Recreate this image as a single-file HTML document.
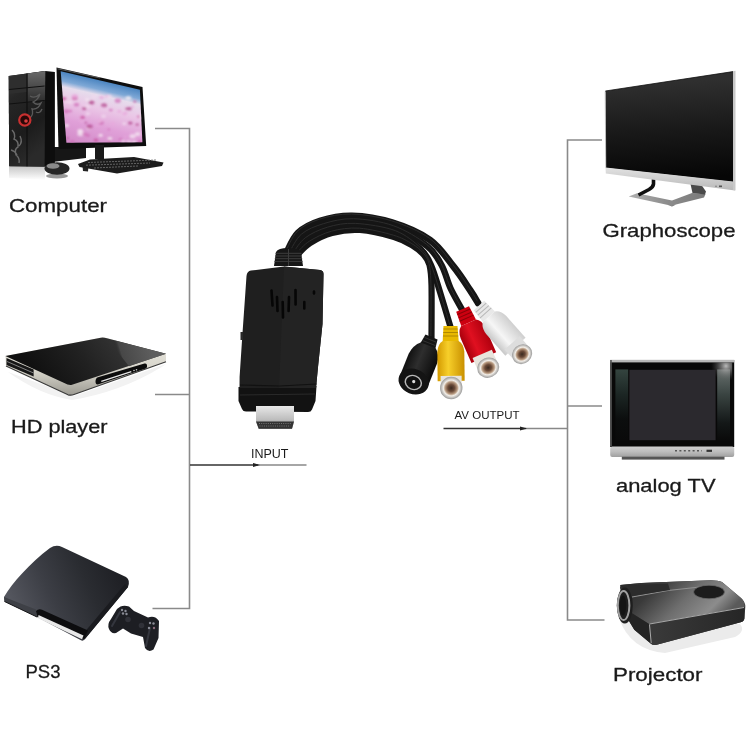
<!DOCTYPE html>
<html><head><meta charset="utf-8">
<style>
html,body{margin:0;padding:0;background:#fff;}
body{width:750px;height:750px;overflow:hidden;}
svg{display:block;}
text{font-family:"Liberation Sans",sans-serif;fill:#1a1a1a;}
svg{will-change:transform;}
</style></head>
<body>
<svg width="750" height="750" viewBox="0 0 750 750">
<defs>
<filter id="soft" x="-10%" y="-10%" width="120%" height="120%"><feGaussianBlur stdDeviation="0.9"/></filter>
<linearGradient id="scr" gradientUnits="userSpaceOnUse" x1="61" y1="71" x2="45" y2="140">
<stop offset="0" stop-color="#4a84c0"/><stop offset="0.13" stop-color="#7ea8d6"/><stop offset="0.21" stop-color="#e6dcec"/><stop offset="0.4" stop-color="#eac6e6"/><stop offset="0.65" stop-color="#e0a0d8"/><stop offset="1" stop-color="#d088c6"/>
</linearGradient>
<linearGradient id="trefl" x1="0" y1="0" x2="0" y2="1">
<stop offset="0" stop-color="#c8c8c8"/><stop offset="1" stop-color="#fff"/>
</linearGradient>
<linearGradient id="tgloss" x1="0" y1="0" x2="0" y2="1">
<stop offset="0" stop-color="#6a6a6a"/><stop offset="1" stop-color="#2a2a2a"/>
</linearGradient>
<linearGradient id="tower" x1="0" y1="0" x2="0.3" y2="1">
<stop offset="0" stop-color="#3a3a3a"/><stop offset="0.3" stop-color="#262626"/><stop offset="0.7" stop-color="#1c1c1c"/><stop offset="1" stop-color="#2a2a2a"/>
</linearGradient>
<linearGradient id="hdtop" gradientUnits="userSpaceOnUse" x1="40" y1="380" x2="110" y2="330">
<stop offset="0" stop-color="#101010"/><stop offset="0.55" stop-color="#212121"/><stop offset="1" stop-color="#333333"/>
</linearGradient>
<linearGradient id="hdref" gradientUnits="userSpaceOnUse" x1="118" y1="356" x2="150" y2="346">
<stop offset="0" stop-color="#2a2a2a" stop-opacity="0"/><stop offset="0.12" stop-color="#474747"/><stop offset="1" stop-color="#5e5e5e"/>
</linearGradient>
<linearGradient id="silver" x1="0" y1="0" x2="0" y2="1">
<stop offset="0" stop-color="#eeece4"/><stop offset="0.6" stop-color="#d4d2c8"/><stop offset="1" stop-color="#9c9a92"/>
</linearGradient>
<linearGradient id="ps3" gradientUnits="userSpaceOnUse" x1="15" y1="610" x2="115" y2="565">
<stop offset="0" stop-color="#54565e"/><stop offset="0.35" stop-color="#3c3e45"/><stop offset="0.7" stop-color="#2a2c31"/><stop offset="1" stop-color="#1f2025"/>
</linearGradient>
<linearGradient id="gmon" gradientUnits="userSpaceOnUse" x1="670" y1="82" x2="675" y2="178">
<stop offset="0" stop-color="#2f2f2f"/><stop offset="0.5" stop-color="#191919"/><stop offset="1" stop-color="#060606"/>
</linearGradient>
<linearGradient id="gbase" x1="0" y1="0" x2="1" y2="0">
<stop offset="0" stop-color="#b0b0b0"/><stop offset="0.5" stop-color="#8c8c8c"/><stop offset="1" stop-color="#7a7a7a"/>
</linearGradient>
<linearGradient id="gbez" x1="0" y1="0" x2="0" y2="1">
<stop offset="0" stop-color="#e2e2e2"/><stop offset="1" stop-color="#b8b8b8"/>
</linearGradient>
<radialGradient id="tvglare" gradientUnits="userSpaceOnUse" cx="726" cy="366" r="15">
<stop offset="0" stop-color="#c4c4c4" stop-opacity="0.95"/><stop offset="0.5" stop-color="#8a8a8a" stop-opacity="0.5"/><stop offset="1" stop-color="#555" stop-opacity="0"/>
</radialGradient>
<linearGradient id="tvpl" x1="0" y1="0" x2="0" y2="1">
<stop offset="0" stop-color="#34443f"/><stop offset="0.35" stop-color="#1c2624"/><stop offset="0.7" stop-color="#0c0e0e"/><stop offset="1" stop-color="#0a0a0a"/>
</linearGradient>
<linearGradient id="tvpr" x1="0" y1="0" x2="0" y2="1">
<stop offset="0" stop-color="#68706e"/><stop offset="0.35" stop-color="#3a4442"/><stop offset="0.75" stop-color="#141818"/><stop offset="1" stop-color="#0a0a0a"/>
</linearGradient>
<linearGradient id="tvband" x1="0" y1="0" x2="0" y2="1">
<stop offset="0" stop-color="#cfcfcf"/><stop offset="0.5" stop-color="#bdbdbd"/><stop offset="1" stop-color="#a0a0a0"/>
</linearGradient>
<linearGradient id="proj" x1="0" y1="0" x2="1" y2="0.35">
<stop offset="0" stop-color="#262626"/><stop offset="0.3" stop-color="#3a3a3a"/><stop offset="0.6" stop-color="#6e6e6e"/><stop offset="0.85" stop-color="#8c8c8c"/><stop offset="1" stop-color="#5a5a5a"/>
</linearGradient>
<linearGradient id="projf" x1="0" y1="0" x2="1" y2="0">
<stop offset="0" stop-color="#3a3a3a"/><stop offset="1" stop-color="#262626"/>
</linearGradient>
<linearGradient id="hdmi" x1="0" y1="0" x2="0" y2="1">
<stop offset="0" stop-color="#e8e8e8"/><stop offset="0.6" stop-color="#bdbdbd"/><stop offset="1" stop-color="#8a8a8a"/>
</linearGradient>
<linearGradient id="yel" x1="0" y1="0" x2="1" y2="0">
<stop offset="0" stop-color="#d49a00"/><stop offset="0.4" stop-color="#f7cf2a"/><stop offset="1" stop-color="#c99000"/>
</linearGradient>
<linearGradient id="red" x1="0" y1="0" x2="1" y2="0">
<stop offset="0" stop-color="#a8000c"/><stop offset="0.4" stop-color="#e01020"/><stop offset="1" stop-color="#b0000e"/>
</linearGradient>
<linearGradient id="wht" x1="0" y1="0" x2="1" y2="0">
<stop offset="0" stop-color="#c8c8c8"/><stop offset="0.4" stop-color="#f6f6f6"/><stop offset="1" stop-color="#cfcfcf"/>
</linearGradient>
<linearGradient id="blk" x1="0" y1="0" x2="1" y2="0">
<stop offset="0" stop-color="#111"/><stop offset="0.4" stop-color="#2e2e2e"/><stop offset="1" stop-color="#0c0c0c"/>
</linearGradient>
<radialGradient id="face">
<stop offset="0" stop-color="#3a2a20"/><stop offset="0.3" stop-color="#6a4a38"/><stop offset="0.55" stop-color="#b89a80"/><stop offset="0.7" stop-color="#f2eee8"/><stop offset="1" stop-color="#9a9a9a"/>
</radialGradient>
</defs>
<rect width="750" height="750" fill="#fff"/>

<!-- ===== Computer ===== -->
<g>
<path d="M9 166.5L45 167L45 180L9 178Z" fill="url(#trefl)"/>
<ellipse cx="57" cy="176" rx="11" ry="2.6" fill="#444" opacity="0.55"/>
<path d="M44 147L86 147L86 158L44 163Z" fill="#161616"/>
<path d="M8.7 76L45.3 70.9L54.9 72L54.9 165.5L45 166.8L9.2 166.2Z" fill="#0d0d0d"/>
<path d="M8.7 76L45.3 70.9L44.6 166.5L9.2 166.2Z" fill="url(#tower)"/>
<path d="M27.5 73.6L45.3 70.9L44.9 100L27.5 103Z" fill="url(#tgloss)"/>
<path d="M9 77L27 74.5L27 92L9 94Z" fill="#2e2e2e"/>
<path d="M27 73.5V166.3" stroke="#0a0a0a" stroke-width="1"/>
<path d="M9 89.5L44.6 86M9 104L44.6 100.5" stroke="#101010" stroke-width="1"/>
<path d="M30 96q5 3 10 -2q-2 6 -7 8q4 4 8 1q-3 7 -9 6q2 5 -2 9M36 112q4 2 6 -3" stroke="#5a5a5a" stroke-width="1.3" fill="none"/>
<path d="M12 130q4 4 2 9q5 2 4 8q-4 2 -2 8q4 3 3 8M20 136q3 6 -1 10M11 150q4 1 6 5" stroke="#6a6a6a" stroke-width="1.4" fill="none"/>
<circle cx="24.8" cy="120" r="5.6" fill="#2a0808" stroke="#c83030" stroke-width="2.2"/>
<circle cx="26" cy="121" r="1.8" fill="#d84040"/>
<path d="M56.5 67.5L142.5 87L146.2 146L58.5 149Z" fill="#0e0e0e"/>
<path d="M57.5 68.8L100 78" stroke="#8a8a8a" stroke-width="1" opacity="0.6"/>
<clipPath id="scrclip"><path d="M60.7 71.3L139.9 89.7L142.4 142.3L66.4 142.8Z"/></clipPath>
<g clip-path="url(#scrclip)">
<rect x="40" y="60" width="110" height="90" fill="url(#scr)"/>
<g filter="url(#soft)">
<ellipse cx="81.5" cy="121.6" rx="1.9" ry="1.4" fill="#e8a8dc" opacity="0.75"/>
<ellipse cx="100.9" cy="123.3" rx="2.4" ry="1.7" fill="#d070b8" opacity="0.75"/>
<ellipse cx="100.5" cy="121.9" rx="1.6" ry="1.1" fill="#f8f0f6" opacity="0.75"/>
<ellipse cx="100.6" cy="135.3" rx="2.2" ry="1.5" fill="#f8f0f6" opacity="0.75"/>
<ellipse cx="132.6" cy="106.9" rx="1.5" ry="1.1" fill="#e8a8dc" opacity="0.75"/>
<ellipse cx="94.0" cy="96.7" rx="2.8" ry="1.9" fill="#f0d8ee" opacity="0.75"/>
<ellipse cx="124.2" cy="123.8" rx="1.8" ry="1.3" fill="#f4e6f2" opacity="0.75"/>
<ellipse cx="129.5" cy="108.7" rx="2.4" ry="1.7" fill="#b04088" opacity="0.75"/>
<ellipse cx="120.6" cy="139.3" rx="2.0" ry="1.4" fill="#d070b8" opacity="0.75"/>
<ellipse cx="109.3" cy="141.3" rx="1.5" ry="1.0" fill="#c8509c" opacity="0.75"/>
<ellipse cx="70.0" cy="102.4" rx="1.6" ry="1.1" fill="#f8f0f6" opacity="0.75"/>
<ellipse cx="97.8" cy="125.5" rx="1.8" ry="1.3" fill="#e8a8dc" opacity="0.75"/>
<ellipse cx="130.3" cy="123.0" rx="2.3" ry="1.6" fill="#b04088" opacity="0.75"/>
<ellipse cx="109.9" cy="138.5" rx="2.6" ry="1.8" fill="#f4e6f2" opacity="0.75"/>
<ellipse cx="132.2" cy="142.6" rx="2.5" ry="1.8" fill="#f0d8ee" opacity="0.75"/>
<ellipse cx="119.3" cy="111.3" rx="2.3" ry="1.6" fill="#e8a8dc" opacity="0.75"/>
<ellipse cx="108.7" cy="129.5" rx="1.6" ry="1.1" fill="#d070b8" opacity="0.75"/>
<ellipse cx="143.0" cy="108.6" rx="1.4" ry="1.0" fill="#b04088" opacity="0.75"/>
<ellipse cx="132.0" cy="142.5" rx="1.4" ry="1.0" fill="#d070b8" opacity="0.75"/>
<ellipse cx="67.5" cy="138.2" rx="1.2" ry="0.9" fill="#b04088" opacity="0.75"/>
<ellipse cx="125.0" cy="137.0" rx="1.3" ry="0.9" fill="#e8a8dc" opacity="0.75"/>
<ellipse cx="124.5" cy="113.8" rx="2.4" ry="1.7" fill="#e8a8dc" opacity="0.75"/>
<ellipse cx="134.2" cy="142.1" rx="2.2" ry="1.5" fill="#f4e6f2" opacity="0.75"/>
<ellipse cx="87.4" cy="99.6" rx="2.4" ry="1.7" fill="#f4e6f2" opacity="0.75"/>
<ellipse cx="139.8" cy="141.7" rx="1.8" ry="1.2" fill="#c8509c" opacity="0.75"/>
<ellipse cx="74.8" cy="98.0" rx="2.9" ry="2.1" fill="#c8509c" opacity="0.75"/>
<ellipse cx="91.5" cy="102.5" rx="2.9" ry="2.0" fill="#b04088" opacity="0.75"/>
<ellipse cx="99.8" cy="120.4" rx="2.5" ry="1.7" fill="#e8a8dc" opacity="0.75"/>
<ellipse cx="117.8" cy="100.8" rx="3.1" ry="2.2" fill="#d070b8" opacity="0.75"/>
<ellipse cx="103.6" cy="116.3" rx="2.6" ry="1.8" fill="#f0d8ee" opacity="0.75"/>
<ellipse cx="138.8" cy="116.6" rx="1.7" ry="1.2" fill="#c8509c" opacity="0.75"/>
<ellipse cx="107.0" cy="96.5" rx="2.0" ry="1.4" fill="#e8a8dc" opacity="0.75"/>
<ellipse cx="87.8" cy="113.7" rx="2.4" ry="1.7" fill="#f0d8ee" opacity="0.75"/>
<ellipse cx="66.9" cy="125.5" rx="2.1" ry="1.5" fill="#f8f0f6" opacity="0.75"/>
<ellipse cx="137.2" cy="124.6" rx="1.8" ry="1.2" fill="#b04088" opacity="0.75"/>
<ellipse cx="63.8" cy="98.8" rx="2.6" ry="1.8" fill="#c8509c" opacity="0.75"/>
<ellipse cx="82.6" cy="117.4" rx="2.4" ry="1.7" fill="#c8509c" opacity="0.75"/>
<ellipse cx="76.5" cy="104.7" rx="2.7" ry="1.9" fill="#d070b8" opacity="0.75"/>
<ellipse cx="110.8" cy="110.1" rx="2.0" ry="1.4" fill="#d070b8" opacity="0.75"/>
<ellipse cx="128.7" cy="141.7" rx="2.6" ry="1.8" fill="#f0d8ee" opacity="0.75"/>
<ellipse cx="87.4" cy="106.5" rx="2.8" ry="2.0" fill="#f0d8ee" opacity="0.75"/>
<ellipse cx="88.9" cy="127.9" rx="2.5" ry="1.7" fill="#f4e6f2" opacity="0.75"/>
<ellipse cx="70.4" cy="111.1" rx="1.9" ry="1.3" fill="#d070b8" opacity="0.75"/>
<ellipse cx="80.4" cy="134.1" rx="3.1" ry="2.2" fill="#f4e6f2" opacity="0.75"/>
<ellipse cx="89.6" cy="126.6" rx="3.0" ry="2.1" fill="#b04088" opacity="0.75"/>
<ellipse cx="84.2" cy="133.0" rx="1.3" ry="0.9" fill="#f0d8ee" opacity="0.75"/>
<ellipse cx="87.8" cy="135.3" rx="2.3" ry="1.6" fill="#d070b8" opacity="0.75"/>
<ellipse cx="84.8" cy="133.9" rx="2.5" ry="1.7" fill="#d070b8" opacity="0.75"/>
<ellipse cx="112.8" cy="123.7" rx="2.0" ry="1.4" fill="#e8a8dc" opacity="0.75"/>
<ellipse cx="127.1" cy="108.7" rx="1.9" ry="1.3" fill="#b04088" opacity="0.75"/>
<ellipse cx="85.8" cy="122.7" rx="1.3" ry="0.9" fill="#b04088" opacity="0.75"/>
<ellipse cx="74.8" cy="96.2" rx="3.1" ry="2.2" fill="#e8a8dc" opacity="0.75"/>
<ellipse cx="142.9" cy="116.4" rx="3.1" ry="2.2" fill="#f8f0f6" opacity="0.75"/>
<ellipse cx="80.2" cy="131.0" rx="2.9" ry="2.0" fill="#f8f0f6" opacity="0.75"/>
<ellipse cx="123.3" cy="141.3" rx="2.3" ry="1.6" fill="#f0d8ee" opacity="0.75"/>
<ellipse cx="132.6" cy="136.3" rx="3.1" ry="2.2" fill="#f4e6f2" opacity="0.75"/>
<ellipse cx="128.4" cy="98.1" rx="3.0" ry="2.1" fill="#f8f0f6" opacity="0.75"/>
<ellipse cx="104.0" cy="105.3" rx="3.0" ry="2.1" fill="#b04088" opacity="0.75"/>
<ellipse cx="109.3" cy="96.6" rx="2.7" ry="1.9" fill="#f0d8ee" opacity="0.75"/>
<ellipse cx="103.3" cy="107.2" rx="1.2" ry="0.9" fill="#e8a8dc" opacity="0.75"/>
<ellipse cx="95.9" cy="140.1" rx="2.4" ry="1.7" fill="#c8509c" opacity="0.75"/>
<ellipse cx="72.3" cy="141.7" rx="2.3" ry="1.6" fill="#d070b8" opacity="0.75"/>
<ellipse cx="126.2" cy="112.5" rx="1.6" ry="1.1" fill="#e8a8dc" opacity="0.75"/>
<ellipse cx="134.8" cy="101.6" rx="1.7" ry="1.2" fill="#c8509c" opacity="0.75"/>
<ellipse cx="137.6" cy="133.9" rx="2.8" ry="2.0" fill="#f4e6f2" opacity="0.75"/>
<ellipse cx="102.0" cy="122.8" rx="2.0" ry="1.4" fill="#d070b8" opacity="0.75"/>
<ellipse cx="84.3" cy="108.6" rx="2.3" ry="1.6" fill="#b04088" opacity="0.75"/>
<ellipse cx="66.2" cy="111.2" rx="2.8" ry="2.0" fill="#d070b8" opacity="0.75"/>
<ellipse cx="66.5" cy="102.0" rx="1.4" ry="1.0" fill="#f4e6f2" opacity="0.75"/>
<ellipse cx="101.6" cy="97.6" rx="2.6" ry="1.8" fill="#e8a8dc" opacity="0.75"/>
</g></g>
<path d="M95 145H104V159H95Z" fill="#1a1a1a"/>
<path d="M82.5 166L88.5 166L88 171.5L83 171Z" fill="#222"/>
<path d="M78 164L90 159.5L134 157L163.5 162.5L162 166L117 173.5L79.5 167Z" fill="#1c1c1c"/>
<path d="M88 162.5L156 160M86 165.2L150 163M94 168L138 166" stroke="#6a6a6a" stroke-width="0.9" stroke-dasharray="2 1"/>
<ellipse cx="57" cy="168.5" rx="12.5" ry="6.2" fill="#262626"/>
<ellipse cx="53" cy="166" rx="6.5" ry="2.8" fill="#8a8a8a"/>
</g>

<!-- ===== HD player ===== -->
<g>
<path d="M8 372Q40 395 72 400Q120 392 160 368L166 364L74 396Z" fill="#f2f2f2"/>
<path d="M5.4 356L100.7 337.7Q104 337.3 107 338.3L166 353.7L166 361.7L74 394.5Q71 395.6 68 394.8L6 366Z" fill="url(#silver)"/>
<path d="M6 366L68 394.8Q71 395.6 74 394.5L166 361.7" stroke="#3a3a3a" stroke-width="1.2" fill="none"/>
<path d="M5.4 356L100.7 337.7Q104 337.3 107 338.3L166 353.7L72 384.8Q70 385.3 67.5 384.5Z" fill="url(#hdtop)"/>
<path d="M107 338.6L166 353.7L129 366.2Z" fill="url(#hdref)"/>
<path d="M6.5 358L33.6 369.5L33.6 376.5L6.5 365Z" fill="#161616"/>
<path d="M7 361.5L33.6 373" stroke="#9a9a9a" stroke-width="0.8"/>
<path d="M98 377.3L144.5 363.5Q147 363 147 365.5L147 366.8Q147 368.3 145 368.8L98.5 384.3Q95.5 385 95.5 381.5Q95.5 378 98 377.3Z" fill="#0c0c0c"/>
<path d="M101.3 381.4L131.3 371.6" stroke="#e8e8e8" stroke-width="1.3"/>
<circle cx="134" cy="370.5" r="0.8" fill="#ccc"/><circle cx="136.5" cy="369.7" r="0.8" fill="#ccc"/>
</g>

<!-- ===== PS3 ===== -->
<g>
<path d="M4 597C12 583 30 563 50 548Q56 544 62 547L126 577Q130.5 580 128 587L84.5 639.5Q83 641.5 80.5 640L37 617L4.5 601.5Z" fill="url(#ps3)"/>
<path d="M4 597L36 609.5L37 617L4.5 601.5Z" fill="#3e4046"/>
<path d="M4.5 601.5L37 617" stroke="#1a1a1c" stroke-width="1"/>
<path d="M128 587L84.5 639.5L83 634L125 584Z" fill="#1a1b1f"/>
<path d="M36 611Q38.5 608.5 42 609.8L88 630.5L84 639L37.5 617Z" fill="#0d0d0f"/>
<path d="M38.5 615L83.5 635.5L82 639.3L38 618.3Z" fill="#e8e8e8"/>
<path d="M109 629Q107 624 111 619L117 609Q122 604 129 606.5L134 611L148 617.5Q155 615 159 621L158.5 638L153.5 649.5Q148.5 653 145 648L143 637L131 633.5L123 628.5L116 633Q111 634 109 629Z" fill="#1d1e23"/>
<path d="M112 626L120 612M146 646L150 628" stroke="#34363e" stroke-width="2" stroke-linecap="round"/>
<g fill="#8a8c96">
<circle cx="122" cy="610" r="1.2"/><circle cx="125.5" cy="611" r="1.2"/><circle cx="123" cy="613.5" r="1.2"/><circle cx="126.5" cy="614" r="1.2"/>
<circle cx="150" cy="623" r="1.2"/><circle cx="153.5" cy="623.5" r="1.2"/><circle cx="149" cy="628" r="1.2"/><circle cx="154" cy="628" r="1.2" fill="#8a6a7a"/>
</g>
<circle cx="128" cy="619.5" r="2.8" fill="#303138"/>
<circle cx="141.5" cy="625.5" r="2.8" fill="#303138"/>
</g>

<!-- ===== Graphoscope ===== -->
<g>
<path d="M628.7 196.5L637 193.2L672 200.5L692 193L705.5 194L704 197.5L672 205.5L668 205Z" fill="url(#gbase)"/>
<path d="M668 205L672 205.5L676 204.5L672 206.5Z" fill="#555"/>
<path d="M653.5 179V184Q653.2 187 649 189.5L638.5 195" stroke="#111" stroke-width="3.6" fill="none"/>
<path d="M690.5 184L701.5 185L706 191.5L705 194.5L692.5 193Z" fill="#4a4a4a"/>
<path d="M605.4 91L733 71.6L733 182L606 168Z" fill="url(#gmon)"/>
<path d="M605.2 91.5L605.8 168" stroke="#bbb" stroke-width="0.8"/>
<path d="M605.4 91L733 71.6" stroke="#111" stroke-width="0.8"/>
<path d="M605.5 167.5L733 181.5L735 190.5L605.8 173.5Z" fill="url(#gbez)"/>
<path d="M733 71.2L735.5 70.8L735.5 190.5L733 190Z" fill="#c8c8c8"/>
<circle cx="716" cy="186.2" r="0.8" fill="#777"/><rect x="719" y="185.5" width="3" height="1.6" fill="#555"/>
</g>

<!-- ===== analog TV ===== -->
<g>
<rect x="610.2" y="360" width="124" height="87" fill="#080808"/>
<rect x="610.2" y="359.8" width="124" height="2.6" fill="#b8b8b8"/>
<rect x="610.2" y="360" width="1.6" height="86" fill="#555"/>
<rect x="615.4" y="369.4" width="12.8" height="71" fill="url(#tvpl)"/>
<rect x="717.2" y="369.4" width="12.8" height="71" fill="url(#tvpr)"/>
<path d="M708 362.4H732.2V392H708Z" fill="url(#tvglare)"/>
<rect x="629.4" y="369.8" width="86.2" height="70.4" fill="#2b292e"/>
<rect x="610.2" y="446.5" width="124" height="10.4" rx="2" fill="url(#tvband)"/>
<rect x="621.8" y="456.7" width="102.7" height="2.9" fill="#555"/>
<path d="M675 450.8H702" stroke="#555" stroke-width="1.4" stroke-dasharray="2 2.4"/>
<path d="M706.5 450.8H712" stroke="#333" stroke-width="2.2"/>
</g>

<!-- ===== Projector ===== -->
<g>
<path d="M619 618Q630 650 665 653L735 637Q746 631 740 624Z" fill="#ebebeb"/>
<path d="M620.3 585Q640 582.5 666 582L711 580.3Q718 580.3 722 582L741 598Q745.5 602 745.3 607L744.4 618.5Q744 621.5 740.7 622.3L656.7 644.7Q653 645.5 651 643.7L634.3 629.7L628.7 620.4L620 588Z" fill="#333"/>
<path d="M620.3 585Q640 582.5 666 582L711 580.3Q718 580.3 722 582L741 598Q745.5 602 744.4 607.3L649 624L630 612L626 594Z" fill="url(#proj)"/>
<path d="M649 624L744.4 607.3L744.4 618.5Q744 621.5 740.7 622.3L656.7 644.7Q653 645.5 651 643.7Z" fill="url(#projf)"/>
<path d="M630 612L649 624L651 643.7L634.3 629.7L628.7 620.4Z" fill="#242424"/>
<path d="M649.5 624L744 607.5M649.5 624.5L651.2 643" stroke="#a8a8a8" stroke-width="1" fill="none"/>
<path d="M632 597L668 590.5L700 587" stroke="#909090" stroke-width="1.2" fill="none"/>
<path d="M628 585.5L668 583.5L670 590L632 596Z" fill="#2c2c2c"/>
<ellipse cx="709" cy="592" rx="15.5" ry="6.8" fill="#1c1c1c" stroke="#6a6a6a" stroke-width="0.8"/>
<ellipse cx="624.8" cy="605.5" rx="8" ry="18" fill="#1e1e1e"/>
<ellipse cx="623.6" cy="605.5" rx="5.8" ry="14.5" fill="none" stroke="#a0a0a0" stroke-width="2"/>
<ellipse cx="623" cy="605.5" rx="3.2" ry="10" fill="#141414"/>
</g>

<!-- ===== Central device: cables ===== -->
<g fill="none" stroke="#151515" stroke-linecap="round">
<path d="M286.0 254.0C288.0 250.5 292.3 238.5 298.0 233.0C303.7 227.5 311.0 223.9 320.0 221.0C329.0 218.1 340.0 215.6 352.0 215.8C364.0 216.1 379.0 218.5 392.0 222.5C405.0 226.5 419.8 232.7 430.0 240.0C440.2 247.3 446.8 258.2 453.5 266.5C460.2 274.8 465.9 283.9 470.0 290.0C474.1 296.1 476.7 300.8 478.0 303.0" stroke-width="6.8"/>
<path d="M290.0 254.0C292.0 251.0 296.3 240.8 302.0 236.0C307.7 231.2 315.3 228.1 324.0 225.5C332.7 222.9 342.3 220.2 354.0 220.5C365.7 220.8 381.8 223.2 394.0 227.5C406.2 231.8 419.1 239.8 427.0 246.0C434.9 252.2 437.6 258.0 441.5 265.0C445.4 272.0 447.0 280.6 450.4 288.0C453.8 295.4 460.1 305.9 462.0 309.5" stroke-width="6.4"/>
<path d="M294.0 254.0C296.0 251.6 300.3 243.7 306.0 239.5C311.7 235.3 319.7 231.4 328.0 229.0C336.3 226.6 344.7 224.6 356.0 225.2C367.3 225.8 385.2 228.4 396.0 232.5C406.8 236.6 415.2 244.1 421.0 249.5C426.8 254.9 427.8 257.9 431.0 265.0C434.2 272.1 436.8 281.7 440.0 292.0C443.2 302.3 448.8 321.2 450.5 327.0" stroke-width="6.2"/>
<path d="M298.0 254.0C300.0 252.2 304.3 246.5 310.0 243.0C315.7 239.5 323.7 235.2 332.0 233.0C340.3 230.8 349.7 229.3 360.0 230.0C370.3 230.7 385.2 234.4 394.0 237.0C402.8 239.6 407.6 242.6 412.5 245.5C417.4 248.4 420.7 251.2 423.5 254.5C426.3 257.8 428.2 259.9 429.5 265.0C430.8 270.1 431.2 272.8 431.5 285.0C431.8 297.2 431.5 329.2 431.5 338.0" stroke-width="6.2"/>
</g>
<g fill="none" stroke="#3c3c3c" stroke-width="1" opacity="0.6" transform="translate(-0.6 -1.8)">
<path d="M286.0 254.0C288.0 250.5 292.3 238.5 298.0 233.0C303.7 227.5 311.0 223.9 320.0 221.0C329.0 218.1 340.0 215.6 352.0 215.8C364.0 216.1 379.0 218.5 392.0 222.5C405.0 226.5 419.8 232.7 430.0 240.0C440.2 247.3 446.8 258.2 453.5 266.5C460.2 274.8 465.9 283.9 470.0 290.0C474.1 296.1 476.7 300.8 478.0 303.0"/>
<path d="M290.0 254.0C292.0 251.0 296.3 240.8 302.0 236.0C307.7 231.2 315.3 228.1 324.0 225.5C332.7 222.9 342.3 220.2 354.0 220.5C365.7 220.8 381.8 223.2 394.0 227.5C406.2 231.8 419.1 239.8 427.0 246.0C434.9 252.2 437.6 258.0 441.5 265.0C445.4 272.0 447.0 280.6 450.4 288.0C453.8 295.4 460.1 305.9 462.0 309.5"/>
<path d="M294.0 254.0C296.0 251.6 300.3 243.7 306.0 239.5C311.7 235.3 319.7 231.4 328.0 229.0C336.3 226.6 344.7 224.6 356.0 225.2C367.3 225.8 385.2 228.4 396.0 232.5C406.8 236.6 415.2 244.1 421.0 249.5C426.8 254.9 427.8 257.9 431.0 265.0C434.2 272.1 436.8 281.7 440.0 292.0C443.2 302.3 448.8 321.2 450.5 327.0"/>
<path d="M298.0 254.0C300.0 252.2 304.3 246.5 310.0 243.0C315.7 239.5 323.7 235.2 332.0 233.0C340.3 230.8 349.7 229.3 360.0 230.0C370.3 230.7 385.2 234.4 394.0 237.0C402.8 239.6 407.6 242.6 412.5 245.5C417.4 248.4 420.7 251.2 423.5 254.5C426.3 257.8 428.2 259.9 429.5 265.0C430.8 270.1 431.2 272.8 431.5 285.0C431.8 297.2 431.5 329.2 431.5 338.0"/>
</g>
<!-- dongle -->
<g>
<path d="M274 266L276 252Q278 248 288 248Q299 248 301 252L303 266Z" fill="#161616"/>
<path d="M275.5 253.3H301.5M275 256H302M274.8 258.7H302.2M274.5 261.4H302.5M288.5 249V266" stroke="#3c3c3c" stroke-width="1"/>
<path d="M238.5 387L316.5 386L315.5 401L312 409.5Q311 412 308 412L246 411.5Q243 411.5 242 409L238.5 401Z" fill="#121212"/>
<path d="M240 395L315 394" stroke="#2a2a2a" stroke-width="1"/>
<path d="M256 406H294V421.5L292 428.7H258.7L256 421.5Z" fill="url(#hdmi)"/>
<path d="M256 421.5H294L292 428.7H258.7Z" fill="#333"/>
<path d="M259 423.5H291M259.5 426H290.5" stroke="#888" stroke-width="0.8" stroke-dasharray="1 1.2"/>
<path d="M246.5 276Q247 271 251 270.5L284 266.5L320 270Q323.5 270.5 323.5 274L322.5 324L318 367L316 388L239.5 388L239.6 377L242.4 334.6L245.4 292Z" fill="#1f1f1f"/>
<path d="M284 266.5L320 270Q323.5 270.5 323.5 274L322.5 324L318 367L316 388L279 388Z" fill="#232323"/>
<path d="M240 385L280 386L316.5 384" stroke="#111" stroke-width="1.2" fill="none"/>
<g stroke="#060606" stroke-width="2.6" stroke-linecap="round">
<path d="M271.5 290.5L272.5 305.5M277 297L277.5 311M282.7 302L283 317.5M289 297L288.6 311M295.5 290L295.6 304.5M304.3 302L304.3 308.5M314 291.5V293.5"/>
</g>
<rect x="240.5" y="332" width="2.5" height="8" fill="#2a2a2a"/>
</g>
<!-- connectors -->
<g transform="translate(431.5 337) rotate(21.8)">
<path d="M-6.5 0H6.5L8 10H-8Z" fill="#151515"/>
<path d="M-6.5 3H6.5M-7 6.5H7" stroke="#333" stroke-width="1"/>
<path d="M-8 9Q-14 14 -15 24L-15 46L15 46L15 22Q14 13 8 9Z" fill="url(#blk)"/>
<ellipse cx="0" cy="48" rx="15.5" ry="12.5" fill="#141414"/>
<ellipse cx="0" cy="49" rx="9" ry="7.5" fill="#b8b8b8"/>
<ellipse cx="0" cy="49" rx="7.5" ry="6.2" fill="#111"/>
<circle cx="0" cy="48" r="1.6" fill="#ddd"/>
</g>
<g transform="translate(450.5 326) rotate(-0.7)">
<path d="M-7 0H7L8 15H-8Z" fill="#e8b800"/>
<path d="M-7 3H7M-7.3 6.5H7.3M-7.6 10H7.6" stroke="#b08800" stroke-width="1"/>
<path d="M-8 15Q-13 18 -13.5 26L-13.5 55L13.5 55L13.5 26Q13 18 8 15Z" fill="url(#yel)"/>
<rect x="-10.5" y="50" width="21" height="10" fill="#e8e4dc"/>
<circle cx="0" cy="62" r="11.2" fill="url(#face)"/>
</g>
<g transform="translate(462.6 309) rotate(-23.6)">
<path d="M-7 0H7L8 15H-8Z" fill="#cc0010"/>
<path d="M-7 3H7M-7.3 6.5H7.3M-7.6 10H7.6" stroke="#8a0008" stroke-width="1"/>
<path d="M-8 15Q-13 18 -13.5 26L-13.5 53L13.5 53L13.5 26Q13 18 8 15Z" fill="url(#red)"/>
<rect x="-10.5" y="49" width="21" height="11" fill="#e8e4dc"/>
<ellipse cx="0" cy="64" rx="11.2" ry="10" fill="url(#face)"/>
</g>
<g transform="translate(479 305.5) rotate(-41.5)">
<path d="M-7 0H7L8 15H-8Z" fill="#e8e8e8"/>
<path d="M-7 3H7M-7.3 6.5H7.3M-7.6 10H7.6" stroke="#b8b8b8" stroke-width="1"/>
<path d="M-8 15Q-13 18 -13.5 26L-13.5 55L13.5 55L13.5 26Q13 18 8 15Z" fill="url(#wht)"/>
<rect x="-10" y="50" width="20" height="11" fill="#ddd"/>
<ellipse cx="0" cy="65" rx="10.5" ry="9.5" fill="url(#face)"/>
</g>

<!-- ===== bracket lines ===== -->
<g stroke="#8a8a8a" stroke-width="1.6" fill="none">
<path d="M155 128.5H189.5V608.5H152.5"/>
<path d="M155 394.5H189.5"/>
<path d="M602 140H567.5V620H604.5"/>
<path d="M567.5 406H602"/>
</g>
<path d="M190 465H258" stroke="#333" stroke-width="1.4"/>
<path d="M258 465H306.5" stroke="#888" stroke-width="1.4"/>
<path d="M253 463L260 465L253 467Z" fill="#222"/>
<path d="M443.5 428.5H526" stroke="#333" stroke-width="1.4"/>
<path d="M526 428.5H567.5" stroke="#888" stroke-width="1.4"/>
<path d="M520 426.5L527 428.5L520 430.5Z" fill="#222"/>
<!-- labels -->
<g font-size="18.5" stroke="#1a1a1a" stroke-width="0.3">
<text x="9" y="212.4" textLength="98" lengthAdjust="spacingAndGlyphs">Computer</text>
<text x="11" y="433" textLength="96.5" lengthAdjust="spacingAndGlyphs">HD player</text>
<text x="25.5" y="678.3" textLength="35" lengthAdjust="spacingAndGlyphs">PS3</text>
<text x="602.5" y="237" textLength="133" lengthAdjust="spacingAndGlyphs">Graphoscope</text>
<text x="616" y="492.4" textLength="99.5" lengthAdjust="spacingAndGlyphs">analog TV</text>
<text x="613" y="680.8" textLength="89.5" lengthAdjust="spacingAndGlyphs">Projector</text>
</g>
<text x="251" y="458.4" font-size="12.5">INPUT</text>
<text x="454.5" y="418.6" font-size="11.5">AV OUTPUT</text>
</svg>
</body></html>
